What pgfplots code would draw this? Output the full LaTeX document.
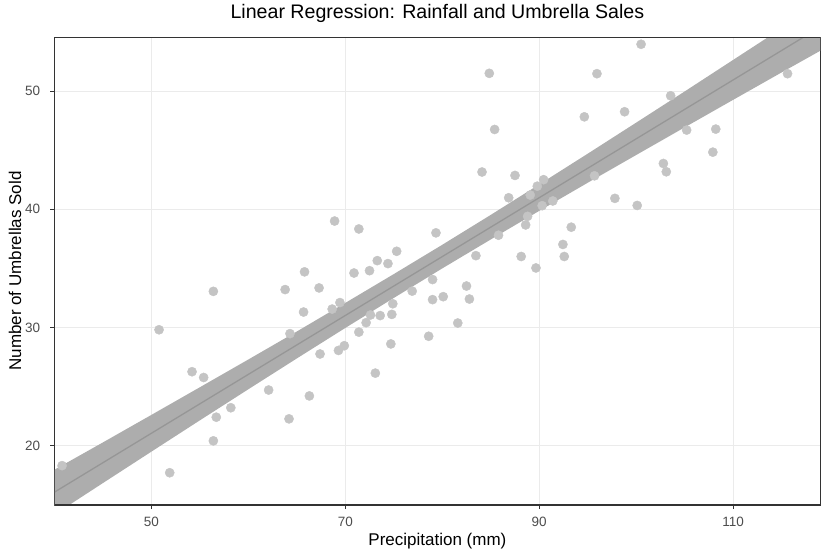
\documentclass[border=0pt]{standalone}
\usepackage{fontspec}
\setmainfont{Liberation Sans}
\usepackage{pgfplots}
\pgfplotsset{compat=1.18}

\definecolor{ptgrey}{RGB}{196,196,196}
\definecolor{bandgrey}{RGB}{173,173,173}
\definecolor{linegrey}{RGB}{150,150,150}
\definecolor{gridgrey}{RGB}{235,235,235}
\definecolor{axgrey}{RGB}{51,51,51}
\definecolor{txtgrey}{RGB}{77,77,77}

% observed rainfall (mm) and umbrellas sold
\pgfplotstableread{
x      y
40.8   18.3
51.9   17.7
50.8   29.8
54.2   26.25
55.4   25.76
56.4   33.05
56.7   22.4
56.4   20.4
58.2   23.2
62.1   24.7
64.2   22.26
63.8   33.2
65.8   34.7
65.7   31.3
64.3   29.47
66.3   24.2
67.3   33.34
67.4   27.75
68.65  31.55
69.45  32.1
69.3   28.05
69.9   28.45
68.9   39.0
70.9   34.6
71.4   38.33
71.4   29.6
72.5   34.8
72.15  30.4
72.6   31.05
73.3   35.65
73.6   31.0
73.1   26.13
74.4   35.4
74.7   28.6
74.8   31.1
74.9   32.0
75.3   36.44
76.9   33.07
78.6   29.25
79.0   34.05
79.0   32.35
79.35  38.0
80.1   32.6
81.6   30.37
82.5   33.5
82.8   32.4
83.47  36.07
84.1   43.15
84.85  51.5
85.4   46.75
85.8   37.8
86.85  40.97
87.5   42.86
88.14  36.0
88.6   38.67
88.8   39.4
89.07  41.2
89.66  35.03
89.8   41.95
90.3   40.3
90.45  42.5
91.4   40.7
92.44  37.02
92.58  36.0
93.3   38.48
94.65  47.82
95.7   42.83
95.95  51.47
97.8   40.92
98.8   48.25
100.1  40.32
100.5  53.96
102.8  43.87
103.1  43.17
103.55 49.6
105.2  46.7
107.9  44.83
108.2  46.78
115.6  51.47
}\rainfall

% fitted line
\pgfplotstableread{
x    fit
40   16.05
120  55.93
}\fit

\begin{document}
\begin{tikzpicture}[x=1pt,y=1pt]
\path[use as bounding box] (0,0) rectangle (821,554);
\begin{axis}[
  at={(54.3pt,49pt)}, anchor=south west,
  width=766.2pt, height=467.7pt, scale only axis,
  xmin=40, xmax=119, ymin=14.97, ymax=54.55,
  xtick={50,70,90,110}, ytick={20,30,40,50},
  minor xtick={}, minor ytick={},
  xtick pos=bottom, ytick pos=left,
  grid=major,
  major grid style={gridgrey, line width=1.1pt},
  axis line style={axgrey, line width=1.1pt},
  tick style={axgrey, line width=1.1pt},
  tick align=outside, major tick length=4pt,
  /pgf/number format/assume math mode=true,
  ticklabel style={font=\fontsize{13.5}{14}\selectfont, text=txtgrey},
  xticklabel style={anchor=north, inner sep=0pt, yshift=-8pt},
  yticklabel style={anchor=east, inner sep=0pt, xshift=-10pt},
]
\addplot[only marks, mark=*, mark size=4.6pt, color=ptgrey,
  mark options={fill=ptgrey, draw=none}] table[x=x, y=y] {\rainfall};
% confidence band as a closed polygon: lower limit forward, upper limit back
\addplot[fill=bandgrey, draw=none, no markers] coordinates {
  (40,14.15) (45,16.82) (50,19.48) (55,22.13) (60,24.76) (65,27.37)
  (70,29.95) (75,32.49) (80,34.99) (85,37.44) (90,39.86) (95,42.24)
  (100,44.59) (105,46.93) (110,49.26) (115,51.58) (120,53.88)
  (120,57.98) (115,55.31) (110,52.64) (105,49.97) (100,47.33) (95,44.70)
  (90,42.10) (85,39.52) (80,36.99) (75,34.51) (70,32.07) (65,29.65)
  (60,27.28) (55,24.93) (50,22.59) (45,20.26) (40,17.95)};
\addplot[linegrey, line width=1.3pt, no markers] table[x=x, y=fit] {\fit};
\draw[axgrey, line width=1.1pt] (rel axis cs:0,0) rectangle (rel axis cs:1,1);
\end{axis}
\node[font=\fontsize{19.6}{22}\selectfont] at (437.4,541) {Linear Regression: Rainfall and Umbrella Sales};
\node[font=\fontsize{17}{18}\selectfont] at (437.4,13) {Precipitation (mm)};
\node[font=\fontsize{17}{18}\selectfont, rotate=90] at (15,283) {Number of Umbrellas Sold};
\end{tikzpicture}
\end{document}
